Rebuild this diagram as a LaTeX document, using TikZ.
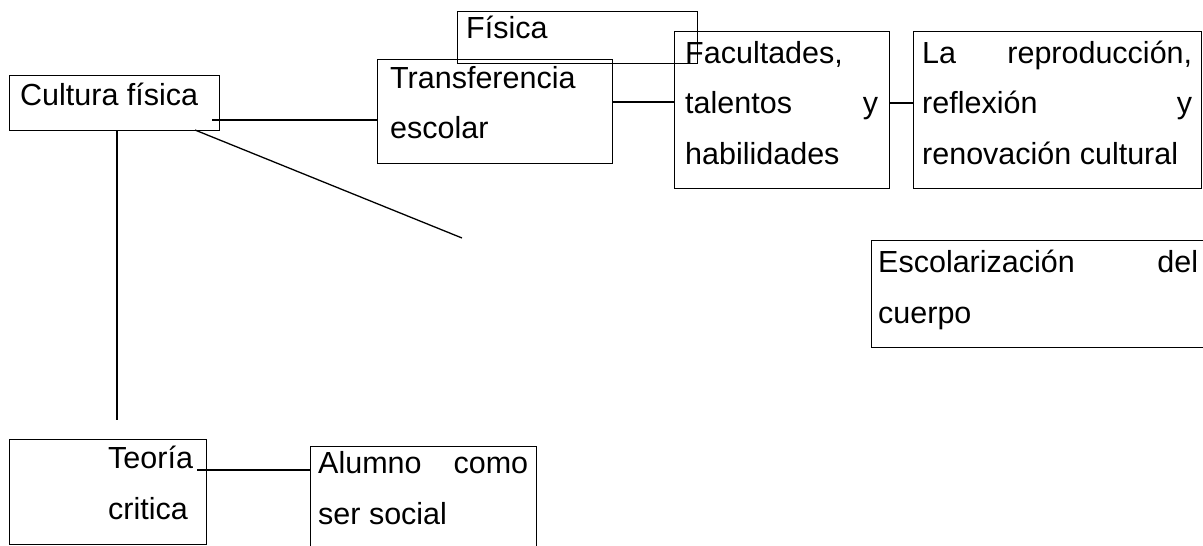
\documentclass[tikz,border=0pt]{standalone}
\usepackage{fontspec}
\setmainfont{Liberation Sans}
\begin{document}
\begin{tikzpicture}[x=1pt,y=-1pt,
  box/.style={draw, line width=1.3pt, inner sep=0pt, anchor=north west},
  lbl/.style={anchor=base west, inner sep=0pt, font=\fontsize{30.5}{51}\selectfont},
  conn/.style={line width=1.3pt}]
\clip (0,0) rectangle (1203,546);
\useasboundingbox (0,0) rectangle (1203,546);
% boxes
\node[box, minimum width=240pt, minimum height=52pt] (fis) at (457,11) {};
\node[box, minimum width=210pt, minimum height=55pt] (cult) at (9,75) {};
\node[box, minimum width=235pt, minimum height=104pt] (trans) at (377,59) {};
\node[box, minimum width=215pt, minimum height=157pt] (fac) at (674,31) {};
\node[box, minimum width=288pt, minimum height=157pt] (repr) at (913,31) {};
\node[box, minimum width=340pt, minimum height=107pt] (esc) at (871,240) {};
\node[box, minimum width=197pt, minimum height=105pt] (teo) at (9,439) {};
\node[box, minimum width=226pt, minimum height=110pt] (alu) at (310,446) {};
% texts
\node[lbl] (tfis) at (466,38) {Física};
\node[lbl] (tcult) at (20,105) {Cultura física};
\node[lbl] (ttrans) at (390,88) {\parbox[t]{210pt}{Transferencia\\escolar}};
\node[lbl] (tfac) at (685,63) {\parbox[t]{193pt}{Facultades,\\talentos\hfill y\\habilidades}};
\node[lbl] (trepr) at (922,63) {\parbox[t]{270pt}{La\hfill reproducción,\\reflexión\hfill y\\renovación cultural}};
\node[lbl] (tesc) at (878,272) {\parbox[t]{320pt}{Escolarización\hfill del\\cuerpo}};
\node[lbl] (tteo) at (108,468) {\parbox[t]{95pt}{Teoría\\critica}};
\node[lbl] (talu) at (318,473) {\parbox[t]{210pt}{Alumno\hfill como\\ser social}};
% connectors
\coordinate (c1) at (212,120);
\coordinate (c2) at (195,130);
\coordinate (c3) at (462,238);
\coordinate (c4) at (117,130);
\coordinate (c5) at (117,420);
\coordinate (c6) at (197,470);
\draw[conn] (c1) -- (trans.west |- c1);
\draw[conn] (c2) -- (c3);
\draw[conn] (c4) -- (c5);
\draw[conn] (c6) -- (alu.west |- c6);
\draw[conn] (trans.east |- 0,102) -- (fac.west |- 0,102);
\draw[conn] (fac.east |- 0,103) -- (repr.west |- 0,103);
\end{tikzpicture}
\end{document}
